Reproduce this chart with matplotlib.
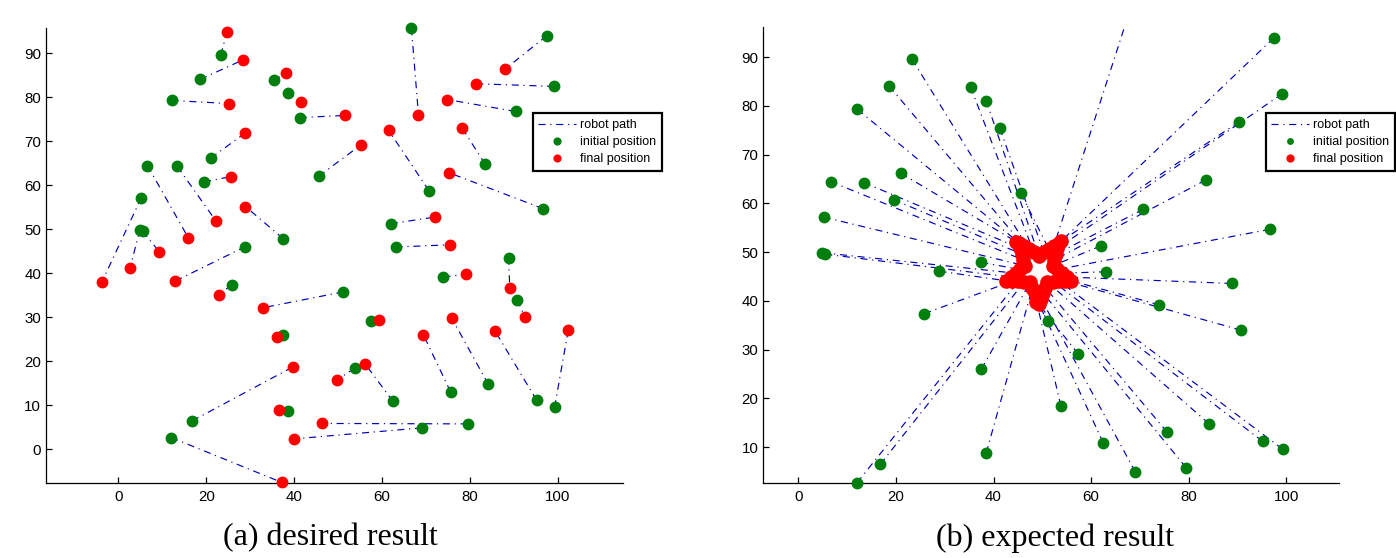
import matplotlib
matplotlib.use('Agg')
import matplotlib.pyplot as plt

plt.rcParams['font.family'] = ['Liberation Sans', 'DejaVu Sans']

# initial robot positions (same in both panels)
init_x = [97.5, 99.2, 90.4, 83.5, 70.7, 96.7, 62.0, 63.1, 88.8, 74.0, 90.8,
          51.2, 57.4, 53.8, 62.5, 69.1, 79.5, 75.6, 84.2, 95.2, 99.3,
          12.0, 16.8, 38.5, 37.5, 25.8, 28.9, 37.5, 4.9, 5.5, 5.2,
          6.6, 13.4, 19.5, 21.0, 12.1, 18.6, 23.3, 35.3, 38.5, 41.3, 45.6, 66.7]
init_y = [94.0, 82.5, 76.8, 64.8, 58.8, 54.7, 51.3, 46.0, 43.6, 39.2, 34.0,
          35.8, 29.1, 18.5, 10.9, 4.9, 5.8, 13.1, 14.8, 11.2, 9.6,
          2.7, 6.5, 8.8, 26.0, 37.4, 46.1, 47.9, 49.9, 49.6, 57.2,
          64.5, 64.3, 60.8, 66.2, 79.3, 84.1, 89.6, 83.9, 81.1, 75.4, 62.1, 95.7]

# (a) desired final positions
fin_a_x = [88.0, 81.5, 74.9, 78.2, 61.5, 75.2, 72.1, 75.5, 89.1, 79.1, 92.5,
           32.9, 59.4, 49.8, 56.2, 40.0, 46.4, 69.4, 75.9, 85.8, 102.4,
           37.2, 39.8, 36.5, 36.2, 22.8, 12.8, 28.9, 2.6, 9.3, -3.8,
           15.9, 22.2, 25.6, 28.7, 25.2, 28.3, 24.7, 38.2, 41.6, 51.6, 55.2, 68.3]
fin_a_y = [86.4, 83.1, 79.5, 73.1, 72.5, 62.9, 52.8, 46.5, 36.7, 39.8, 30.1,
           32.2, 29.5, 15.8, 19.4, 2.4, 5.9, 26.1, 29.8, 26.8, 27.1,
           -7.5, 18.8, 8.9, 25.5, 35.1, 38.2, 55.2, 41.2, 44.9, 38.0,
           48.1, 51.9, 62.0, 71.8, 78.6, 88.5, 94.9, 85.5, 78.9, 75.9, 69.2, 76.1]

# (b) expected final positions (star formation)
fin_b_x = [53.9, 53.1, 53.41, 52.47, 52.78, 53.1, 52.15, 54.06, 55.01, 55.96, 54.74,
           48.8, 49.3, 48.42, 48.86, 49.74, 50.18, 50.62, 51.06, 52.29, 53.51,
           45.09, 46.32, 47.98, 47.54, 43.87, 42.64, 45.5, 44.55, 43.59, 46.45,
           46.14, 45.51, 45.82, 44.6, 45.19, 46.22, 47.25, 48.27, 49.3, 50.33, 51.36, 52.38]
fin_b_y = [52.3, 50.78, 51.96, 48.41, 49.6, 46.46, 47.23, 45.69, 44.91, 44.14, 44.07,
           39.7, 39.3, 41.59, 40.44, 40.44, 41.59, 42.73, 43.87, 43.94, 44.01,
           44.01, 43.94, 42.73, 43.87, 44.07, 44.14, 46.46, 45.69, 44.91, 47.23,
           48.41, 50.78, 49.6, 52.2, 51.96, 51.3, 50.63, 49.97, 49.3, 49.97, 50.63, 51.3]

path_color = '#0000b4'
green = '#007f0e'
red = '#ff0000'
dashdot = (0, (6, 4, 1, 4))

fig = plt.figure(figsize=(13.96, 5.58), dpi=100)
ax1 = fig.add_axes([46 / 1396, 1 - 483.3 / 558, 576.7 / 1396, 455 / 558])
ax2 = fig.add_axes([763.3 / 1396, 1 - 483.3 / 558, 576 / 1396, 456.3 / 558])


def draw_panel(ax, fx, fy, n_init, red_ms):
    for i in range(len(init_x)):
        ax.plot([init_x[i], fx[i]], [init_y[i], fy[i]], color=path_color,
                lw=0.85, ls=dashdot, label='robot path' if i == 0 else None)
    ax.plot(init_x[:n_init], init_y[:n_init], 'o', color=green, ms=7.5,
            mec=green, clip_on=False, label='initial position', zorder=3)
    ax.plot(fx, fy, 'o', color=red, ms=red_ms, mec=red, clip_on=False,
            label='final position', zorder=4)
    for side in ['top', 'right']:
        ax.spines[side].set_visible(False)
    for side in ['left', 'bottom']:
        ax.spines[side].set_linewidth(0.9)
    ax.tick_params(direction='in', length=4, width=0.9, labelsize=10.8)
    ax.tick_params(axis='y', pad=3.5)
    ax.tick_params(axis='x', pad=5)


draw_panel(ax1, fin_a_x, fin_a_y, len(init_x), 7.5)
ax1.set_xlim(-16.5, 114.8)
ax1.set_ylim(-7.7, 95.7)
ax1.set_xticks([0, 20, 40, 60, 80, 100])
ax1.set_yticks([0, 10, 20, 30, 40, 50, 60, 70, 80, 90])

# the start marker of the top robot is not visible in panel (b)
draw_panel(ax2, fin_b_x, fin_b_y, len(init_x) - 1, 9.5)
ax2.set_xlim(-7.2, 110.9)
ax2.set_ylim(2.6, 96.2)
ax2.set_xticks([0, 20, 40, 60, 80, 100])
ax2.set_yticks([10, 20, 30, 40, 50, 60, 70, 80, 90])

for ax, x0, ms in [(ax1, 532.7, 0.65), (ax2, 1265.5, 0.52)]:
    leg = ax.legend(loc='upper left', bbox_to_anchor=(x0 / 1396, 1 - 113.3 / 558),
                    bbox_transform=fig.transFigure, borderaxespad=0,
                    fontsize=9, fancybox=False, framealpha=1, edgecolor='black',
                    handlelength=3.0, handletextpad=0.35, labelspacing=0.42,
                    borderpad=0.45, markerscale=ms)
    leg.get_frame().set_linewidth(1.6)

fig.text(330 / 1396, 1 - 538 / 558, '(a) desired result', ha='center', va='center',
         family=['Liberation Serif', 'DejaVu Serif'], fontsize=23)
fig.text(1055 / 1396, 1 - 538 / 558, '(b) expected result', ha='center', va='center',
         family=['Liberation Serif', 'DejaVu Serif'], fontsize=23)

fig.savefig('out.png', dpi=100)
